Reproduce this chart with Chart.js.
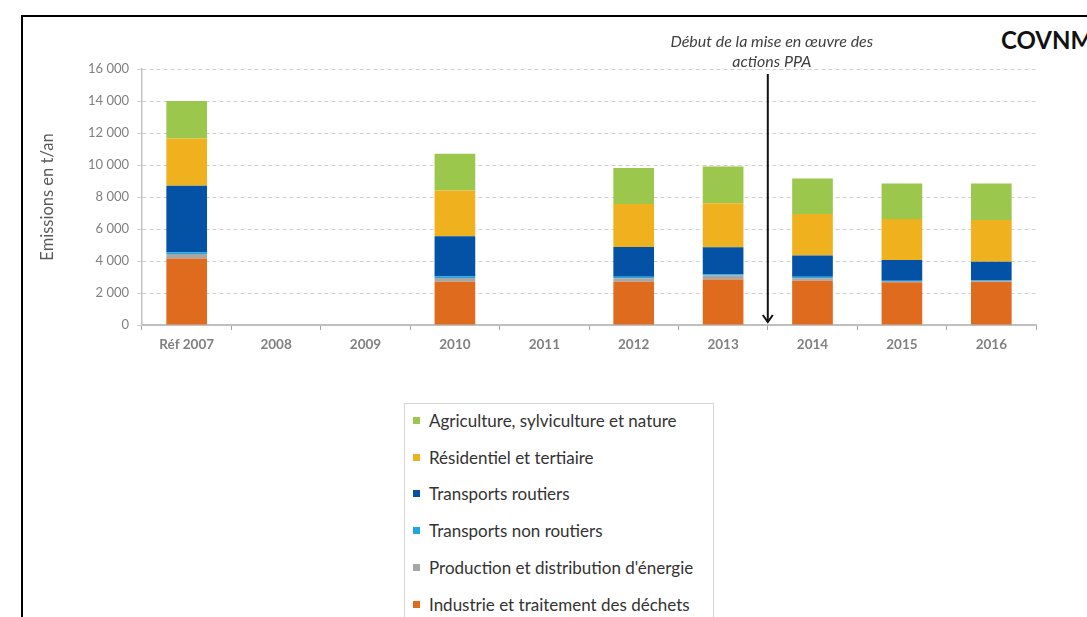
<!DOCTYPE html>
<html>
<head>
<meta charset="utf-8">
<script src="https://cdn.jsdelivr.net/npm/chart.js@4/dist/chart.umd.min.js"></script>
<style>
    body { margin: 0; background: #fff; overflow: hidden; width: 1087px; height: 617px; position: relative; font-family: Lato, "Open Sans", sans-serif; }
    #frame { position: absolute; left: 21px; top: 15px; width: 1100px; height: 700px; border-left: 2px solid #000; border-top: 2px solid #000; }
    #wrap01 { position: absolute; left: 0; top: 0; width: 1087px; height: 370px; }
    #title01 { position: absolute; left: 1001px; top: 25px; font-size: 24px; font-weight: bold; color: #111; white-space: nowrap; }
    #legend01 { position: absolute; left: 404px; top: 403px; width: 308px; height: 240px; border: 1px solid #d6d6d6; }
    #legend01 .rows { margin-top: -2px; }
    #legend01 .item { height: 36.8px; display: flex; align-items: center; padding-left: 8px; font-size: 17px; color: #333; white-space: nowrap; }
    #legend01 .box { width: 7px; height: 7px; margin-right: 9px; }
</style>
</head>
<body>
<div id="frame"></div>
<div id="title01">COVNM</div>
<div id="wrap01"><canvas id="cv_chart01"></canvas></div>
<div id="legend01"><div class="rows" id="legendRows01"></div></div>
<script>
const years = ['Réf 2007', '2008', '2009', '2010', '2011', '2012', '2013', '2014', '2015', '2016'];

// émissions en t/an, pas de données pour 2008, 2009 et 2011
const industrie   = [4150, null, null, 2700, null, 2700, 2850, 2770, 2670, 2700];
const energie     = [280,  null, null, 230,  null, 220,  250,  150,  40,   30];
const nonRoutiers = [120,  null, null, 100,  null, 100,  70,   100,  60,   60];
const routiers    = [4150, null, null, 2520, null, 1850, 1690, 1330, 1290, 1170];
const residentiel = [2950, null, null, 2850, null, 2700, 2750, 2580, 2560, 2600];
const agriculture = [2350, null, null, 2300, null, 2250, 2300, 2230, 2230, 2290];

const sectorNames = [
    'Industrie et traitement des déchets',
    "Production et distribution d'énergie",
    'Transports non routiers',
    'Transports routiers',
    'Résidentiel et tertiaire',
    'Agriculture, sylviculture et nature'
];
const sectorColors = ['#df6b1f', '#a6a6a6', '#1fa5e2', '#0352a5', '#efb11e', '#9bc74c'];
const yTicks = [0, 2000, 4000, 6000, 8000, 10000, 12000, 14000, 16000];

const ppaLabel = ['Début de la mise en œuvre des', 'actions PPA'];

let chart_01;

const fmtThousands = (v) => String(v).replace(/\B(?=(\d{3})+(?!\d))/g, ' ');

// flèche verticale entre 2013 et 2014
const ppaArrow = {
    id: 'ppaArrow',
    afterDraw: (chart) => {
        const ctx = chart.ctx;
        const xs = chart.scales.x;
        const x = (xs.getPixelForValue(6) + xs.getPixelForValue(7)) / 2;
        const bottom = chart.chartArea.bottom - 3;
        ctx.save();
        ctx.fillStyle = '#404040';
        ctx.font = 'italic 16px Lato, sans-serif';
        ctx.textAlign = 'center';
        ctx.textBaseline = 'middle';
        ctx.fillText(ppaLabel[0], x + 4, 42);
        ctx.fillText(ppaLabel[1], x + 4, 62);

        ctx.strokeStyle = '#111';
        ctx.lineWidth = 2;
        ctx.beginPath();
        ctx.moveTo(x, 74);
        ctx.lineTo(x, bottom);
        ctx.stroke();
        ctx.beginPath();
        ctx.moveTo(x - 5, bottom - 7);
        ctx.lineTo(x, bottom);
        ctx.lineTo(x + 5, bottom - 7);
        ctx.stroke();
        ctx.restore();
    }
};

const series = [industrie, energie, nonRoutiers, routiers, residentiel, agriculture];

const init_chart_01 = () => {
    const ctx01 = document.getElementById('cv_chart01').getContext('2d');
    chart_01 = new Chart(ctx01, {
        type: 'bar',
        data: {
            labels: years,
            datasets: series.map((data, i) => ({
                label: sectorNames[i],
                data: data,
                backgroundColor: sectorColors[i],
                borderWidth: 0,
                barPercentage: 0.455,
                categoryPercentage: 1
            }))
        },
        options: {
            responsive: true,
            maintainAspectRatio: false,
            animation: false,
            layout: { padding: { top: 69, right: 51, left: 34, bottom: 0 } },
            plugins: {
                legend: { display: false },
                tooltip: { enabled: false }
            },
            scales: {
                x: {
                    stacked: true,
                    afterFit: (scale) => { scale.height = 45; },
                    border: { color: '#bfbfbf', width: 2 },
                    grid: {
                        offset: true,
                        drawOnChartArea: false,
                        drawTicks: true,
                        tickLength: 5,
                        tickColor: '#a6a6a6'
                    },
                    ticks: {
                        color: '#808080',
                        padding: 7,
                        font: { family: 'Lato', size: 13.5, weight: 'bold' }
                    }
                },
                y: {
                    stacked: true,
                    min: 0,
                    max: 16000,
                    afterFit: (scale) => { scale.width = 108; },
                    afterBuildTicks: (scale) => { scale.ticks = yTicks.map(v => ({ value: v })); },
                    border: { color: '#c4c4c4', width: 1.5, dash: [4, 3] },
                    grid: {
                        color: '#cfcfcf',
                        lineWidth: 1,
                        tickLength: 5,
                        tickColor: '#cfcfcf'
                    },
                    ticks: {
                        color: '#808080',
                        padding: 8,
                        font: { family: 'Lato', size: 13 },
                        callback: (v) => fmtThousands(v)
                    },
                    title: {
                        display: true,
                        text: 'Emissions en t/an',
                        color: '#595959',
                        font: { family: 'Lato', size: 16.5 }
                    }
                }
            }
        },
        plugins: [ppaArrow]
    });
};

const build_legend_01 = () => {
    const legend = document.getElementById('legendRows01');
    const sets = chart_01.data.datasets.slice().reverse();
    sets.forEach((ds) => {
        const row = document.createElement('div');
        row.className = 'item';
        const box = document.createElement('span');
        box.className = 'box';
        box.style.background = ds.backgroundColor;
        row.appendChild(box);
        row.appendChild(document.createTextNode(ds.label));
        legend.appendChild(row);
    });
};

init_chart_01();
build_legend_01();
</script>
</body>
</html>
